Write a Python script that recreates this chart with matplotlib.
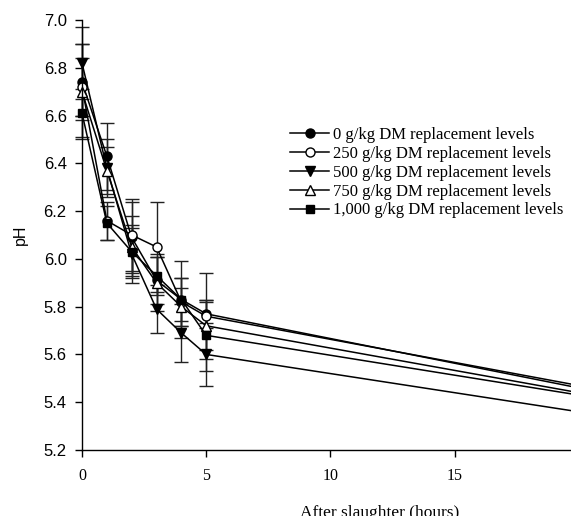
import matplotlib
matplotlib.use('Agg')
import matplotlib.pyplot as plt

# hours after slaughter
hours = [0, 1, 2, 3, 4, 5, 20]

labels = ['0 g/kg DM replacement levels',
          '250 g/kg DM replacement levels',
          '500 g/kg DM replacement levels',
          '750 g/kg DM replacement levels',
          '1,000 g/kg DM replacement levels']

ph_0 = [6.74, 6.43, 6.09, 5.91, 5.83, 5.77, 5.46]
ph_250 = [6.72, 6.16, 6.10, 6.05, 5.82, 5.76, 5.47]
ph_500 = [6.82, 6.38, 6.02, 5.79, 5.69, 5.60, 5.36]
ph_750 = [6.70, 6.37, 6.05, 5.90, 5.80, 5.72, 5.44]
ph_1000 = [6.61, 6.15, 6.03, 5.93, 5.83, 5.68, 5.43]

err_0 = [0.16, 0.14, 0.15, 0.10, 0.16, 0.06, 0.05]
err_250 = [0.12, 0.08, 0.15, 0.19, 0.10, 0.18, 0.05]
err_500 = [0.15, 0.12, 0.12, 0.10, 0.12, 0.13, 0.05]
err_750 = [0.20, 0.10, 0.13, 0.12, 0.08, 0.10, 0.05]
err_1000 = [0.10, 0.07, 0.10, 0.08, 0.09, 0.15, 0.05]

series = [
    (ph_0, err_0, 'o', 'black'),
    (ph_250, err_250, 'o', 'white'),
    (ph_500, err_500, 'v', 'black'),
    (ph_750, err_750, '^', 'white'),
    (ph_1000, err_1000, 's', 'black'),
]

fig = plt.figure(figsize=(5.71, 5.16), dpi=100)
# axis runs on past the right edge of the picture (cropped original)
ax = fig.add_axes([82 / 571, 66 / 516, 596 / 571, 430 / 516])

for (vals, errs, mk, face), lab in zip(series, labels):
    ax.errorbar(hours, vals, yerr=errs, color='black', ecolor='#222222',
                elinewidth=1.0, capsize=5, capthick=1.0, linewidth=1.1,
                marker=mk, markersize=6.5 if mk != 's' else 6,
                markerfacecolor=face, markeredgecolor='black',
                markeredgewidth=1.0, label=lab, clip_on=False)

ax.set_xlim(0, 24)
ax.set_ylim(5.2, 7.0)
ax.set_xticks([0, 5, 10, 15, 20])
ax.set_yticks([5.2, 5.4, 5.6, 5.8, 6.0, 6.2, 6.4, 6.6, 6.8, 7.0])
ax.set_yticklabels(['%.1f' % v for v in ax.get_yticks()],
                   family='Liberation Sans', fontsize=12)
ax.set_xticklabels(['0', '5', '10', '15', '20'],
                   family='Liberation Serif', fontsize=11.5)

for side in ['top', 'right']:
    ax.spines[side].set_visible(False)
ax.spines['left'].set_linewidth(1.0)
ax.spines['bottom'].set_linewidth(1.0)
ax.tick_params(direction='out', length=5, width=1.0)
ax.tick_params(axis='y', pad=6)
ax.tick_params(axis='x', pad=8)

ax.set_ylabel('pH', family='Liberation Sans', fontsize=11.5, labelpad=11)
ax.set_xlabel('After slaughter (hours)', family='Liberation Serif',
              fontsize=12.5, labelpad=15)

handles, labs = ax.get_legend_handles_labels()
handles = [h[0] for h in handles]
ax.legend(handles, labs, loc='upper left', bbox_to_anchor=(208 / 596, 0.751),
          frameon=False, prop={'family': 'Liberation Serif', 'size': 12},
          handlelength=2.35, handletextpad=0.25, labelspacing=0.17,
          borderaxespad=0, borderpad=0)

fig.savefig('out.png', dpi=100)
